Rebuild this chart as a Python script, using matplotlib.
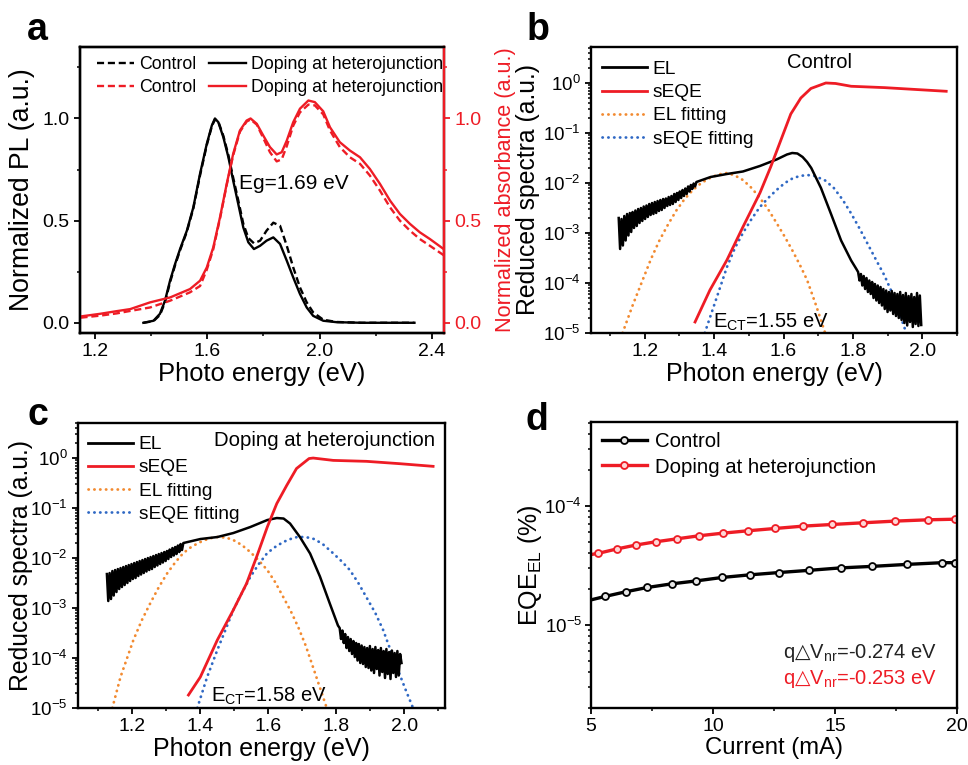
import numpy as np
import matplotlib
matplotlib.use('Agg')
import matplotlib.pyplot as plt
from matplotlib.ticker import MultipleLocator, LogLocator, NullFormatter
from matplotlib.lines import Line2D

plt.rcParams['font.family'] = ['Liberation Sans', 'DejaVu Sans']
plt.rcParams['mathtext.fontset'] = 'custom'
plt.rcParams['mathtext.rm'] = 'Liberation Sans'
plt.rcParams['mathtext.it'] = 'Liberation Sans:italic'
plt.rcParams['mathtext.bf'] = 'Liberation Sans:bold'
plt.rcParams['mathtext.sf'] = 'DejaVu Sans'
plt.rcParams['axes.linewidth'] = 1.7

RED = '#ee1c25'
ORANGE = '#f28a30'
BLUE = '#2f68c4'

# ---------------- Panel a data ----------------
pl_x = [1.372, 1.408, 1.431, 1.449, 1.467, 1.485, 1.503, 1.527, 1.55, 1.574, 1.598, 1.616,
        1.627, 1.639, 1.657, 1.675, 1.692, 1.71, 1.728, 1.746, 1.766, 1.788, 1.811, 1.835,
        1.859, 1.883, 1.906, 1.93, 1.954, 1.977, 2.013, 2.06, 2.15, 2.338]
pl_doping = [0.0, 0.01, 0.044, 0.108, 0.206, 0.288, 0.362, 0.451, 0.565, 0.73, 0.876, 0.966,
             1.0, 0.982, 0.908, 0.81, 0.696, 0.582, 0.467, 0.394, 0.361, 0.377, 0.402, 0.418,
             0.386, 0.304, 0.222, 0.141, 0.075, 0.034, 0.01, 0.003, 0.0, 0.0]
pl_control = [0.0, 0.008, 0.038, 0.1, 0.198, 0.282, 0.356, 0.446, 0.56, 0.722, 0.87, 0.962,
              0.995, 0.985, 0.915, 0.82, 0.71, 0.6, 0.485, 0.415, 0.389, 0.402, 0.451, 0.49,
              0.475, 0.377, 0.271, 0.173, 0.1, 0.051, 0.015, 0.004, 0.0, 0.0]

abs_x = [1.148, 1.218, 1.277, 1.325, 1.396, 1.467, 1.538, 1.574, 1.598, 1.621, 1.645, 1.669,
         1.692, 1.716, 1.74, 1.754, 1.776, 1.799, 1.823, 1.847, 1.865, 1.883, 1.906, 1.93,
         1.96, 1.983, 2.013, 2.037, 2.072, 2.108, 2.144, 2.179, 2.215, 2.251, 2.286, 2.322,
         2.357, 2.393, 2.443]
abs_doping = [0.031, 0.044, 0.057, 0.067, 0.1, 0.124, 0.165, 0.206, 0.271, 0.369, 0.516, 0.68,
              0.827, 0.941, 0.99, 1.0, 0.974, 0.917, 0.86, 0.824, 0.835, 0.892, 0.982, 1.048,
              1.088, 1.08, 1.035, 0.957, 0.884, 0.843, 0.81, 0.753, 0.68, 0.598, 0.533, 0.484,
              0.443, 0.41, 0.36]
abs_control = [0.025, 0.035, 0.046, 0.058, 0.075, 0.108, 0.149, 0.18, 0.26, 0.36, 0.51, 0.675,
               0.82, 0.935, 0.985, 0.995, 0.97, 0.905, 0.835, 0.79, 0.80, 0.865, 0.965, 1.03,
               1.068, 1.064, 1.02, 0.941, 0.86, 0.81, 0.778, 0.721, 0.647, 0.565, 0.5, 0.451,
               0.41, 0.377, 0.33]

# ---------------- Panel b data (log10 values) ----------------
b_el_left_log = [-2.70, -3.32, -2.72, -3.25, -2.66, -3.15, -2.62, -3.05, -2.60, -2.98, -2.58,
                 -2.90, -2.55, -2.86, -2.52, -2.80, -2.50, -2.76, -2.47, -2.72, -2.45, -2.68,
                 -2.42, -2.64, -2.40, -2.62, -2.38, -2.60, -2.36, -2.56, -2.34, -2.54, -2.32,
                 -2.50, -2.31, -2.46, -2.28, -2.44, -2.26, -2.42, -2.22, -2.38, -2.20, -2.34,
                 -2.17, -2.30, -2.14, -2.26, -2.11, -2.22, -2.07, -2.17, -2.04, -2.12, -2.01,
                 -2.07, -1.98]
b_el_mid_x = [1.39, 1.437, 1.483, 1.532, 1.58, 1.61, 1.625, 1.64, 1.655, 1.668, 1.68, 1.708,
              1.737, 1.766, 1.795, 1.81]
b_el_mid_log = [-1.88, -1.82, -1.77, -1.66, -1.53, -1.43, -1.40, -1.41, -1.48, -1.58, -1.70,
                -2.10, -2.62, -3.15, -3.55, -3.72]
b_el_right_log = [-3.78, -3.95, -3.82, -4.05, -3.86, -4.12, -3.90, -4.18, -3.95, -4.22, -3.98,
                  -4.30, -4.02, -4.35, -4.05, -4.40, -4.08, -4.45, -4.12, -4.52, -4.15, -4.58,
                  -4.18, -4.55, -4.16, -4.62, -4.20, -4.66, -4.22, -4.70, -4.18, -4.74, -4.24,
                  -4.80, -4.20, -4.85, -4.26, -4.78, -4.22, -4.88, -4.28, -4.82, -4.20, -4.86,
                  -4.25, -4.84]
b_seqe_x = [1.345, 1.388, 1.437, 1.483, 1.532, 1.563, 1.592, 1.621, 1.65, 1.679, 1.722, 1.75,
            1.795, 1.891, 1.988, 2.069]
b_seqe_log = [-4.78, -4.14, -3.54, -2.88, -2.20, -1.68, -1.15, -0.62, -0.30, -0.11, 0.0, -0.01,
              -0.066, -0.093, -0.133, -0.166]
b_elfit_x = [1.136, 1.165, 1.194, 1.218, 1.243, 1.268, 1.292, 1.315, 1.339, 1.363, 1.388, 1.412,
             1.437, 1.46, 1.483, 1.508, 1.532, 1.556, 1.58, 1.604, 1.628, 1.648, 1.668, 1.694,
             1.72]
b_elfit_log = [-5.0, -4.45, -3.94, -3.52, -3.14, -2.82, -2.54, -2.32, -2.14, -2.0, -1.90, -1.83,
               -1.80, -1.85, -1.94, -2.10, -2.30, -2.53, -2.80, -3.08, -3.38, -3.65, -3.94,
               -4.45, -5.0]
b_eqefit_x = [1.373, 1.408, 1.437, 1.46, 1.483, 1.508, 1.532, 1.556, 1.58, 1.604, 1.628, 1.648,
              1.668, 1.69, 1.72, 1.745, 1.77, 1.795, 1.82, 1.845, 1.87, 1.891, 1.91, 1.93, 1.954]
b_eqefit_log = [-5.0, -4.28, -3.68, -3.30, -3.0, -2.72, -2.48, -2.30, -2.14, -2.00, -1.90, -1.86,
                -1.84, -1.86, -1.95, -2.10, -2.33, -2.61, -2.92, -3.25, -3.58, -3.85, -4.15,
                -4.52, -5.0]

# ---------------- Panel c data (log10 values) ----------------
c_el_left_log = [-2.32, -2.86, -2.30, -2.82, -2.26, -2.75, -2.24, -2.68, -2.22, -2.62, -2.20,
                 -2.58, -2.18, -2.54, -2.16, -2.50, -2.14, -2.46, -2.12, -2.42, -2.10, -2.40,
                 -2.08, -2.36, -2.06, -2.33, -2.04, -2.30, -2.02, -2.27, -2.00, -2.24, -1.98,
                 -2.22, -1.96, -2.18, -1.94, -2.15, -1.92, -2.12, -1.90, -2.09, -1.88, -2.06,
                 -1.86, -2.02, -1.83, -1.98, -1.80, -1.95, -1.78, -1.92, -1.75, -1.88, -1.72,
                 -1.84, -1.70]
c_el_mid_x = [1.40, 1.45, 1.497, 1.547, 1.597, 1.625, 1.645, 1.664, 1.693, 1.723, 1.752, 1.781,
              1.805]
c_el_mid_log = [-1.62, -1.58, -1.50, -1.38, -1.24, -1.20, -1.21, -1.31, -1.58, -1.91, -2.37,
                -2.91, -3.35]
c_el_right_log = [-3.40, -3.62, -3.45, -3.70, -3.52, -3.80, -3.58, -3.86, -3.62, -3.92, -3.66,
                  -3.98, -3.70, -4.05, -3.72, -4.10, -3.75, -4.12, -3.78, -4.18, -3.80, -4.20,
                  -3.76, -4.25, -3.82, -4.30, -3.78, -4.22, -3.84, -4.35, -3.80, -4.28, -3.86,
                  -4.40, -3.82, -4.32, -3.88, -4.42, -3.85, -4.30, -3.90, -4.38, -3.86, -4.35,
                  -3.92, -4.10]
c_seqe_x = [1.365, 1.40, 1.45, 1.497, 1.536, 1.566, 1.597, 1.625, 1.654, 1.683, 1.72, 1.732,
            1.791, 1.889, 1.987, 2.085]
c_seqe_log = [-4.74, -4.38, -3.64, -3.04, -2.51, -1.97, -1.38, -0.91, -0.55, -0.21, -0.01, 0.0,
              -0.047, -0.066, -0.113, -0.166]
c_elfit_x = [1.141, 1.165, 1.203, 1.228, 1.253, 1.278, 1.303, 1.327, 1.35, 1.375, 1.40, 1.425,
             1.45, 1.475, 1.497, 1.522, 1.547, 1.572, 1.597, 1.62, 1.644, 1.666, 1.688, 1.71,
             1.735, 1.772]
c_elfit_log = [-5.0, -4.38, -3.64, -3.24, -2.90, -2.58, -2.30, -2.08, -1.90, -1.77, -1.68, -1.61,
               -1.58, -1.59, -1.64, -1.74, -1.88, -2.05, -2.24, -2.48, -2.78, -3.06, -3.38,
               -3.75, -4.25, -5.0]
c_eqefit_x = [1.391, 1.42, 1.45, 1.475, 1.497, 1.522, 1.547, 1.572, 1.597, 1.62, 1.644, 1.665,
              1.685, 1.71, 1.735, 1.76, 1.79, 1.815, 1.84, 1.865, 1.89, 1.915, 1.938, 1.96,
              1.985, 2.005, 2.026]
c_eqefit_log = [-5.0, -4.38, -3.84, -3.42, -3.04, -2.70, -2.38, -2.12, -1.90, -1.78, -1.68,
                -1.62, -1.58, -1.58, -1.62, -1.72, -1.90, -2.06, -2.24, -2.50, -2.80, -3.10,
                -3.44, -3.85, -4.30, -4.65, -5.0]

# ---------------- Panel d data ----------------
d_ctrl_x = [5.0, 5.57, 6.45, 7.31, 8.31, 9.32, 10.37, 11.5, 12.69, 13.93, 15.23, 16.53, 17.94,
            19.39, 19.92]
d_ctrl_y = [1.62e-5, 1.73e-5, 1.90e-5, 2.06e-5, 2.21e-5, 2.34e-5, 2.50e-5, 2.63e-5, 2.75e-5,
            2.87e-5, 3.01e-5, 3.10e-5, 3.22e-5, 3.33e-5, 3.33e-5]
d_dop_x = [5.0, 5.30, 6.05, 6.83, 7.65, 8.51, 9.44, 10.41, 11.45, 12.55, 13.70, 14.89, 16.15,
           17.46, 18.81, 19.92]
d_dop_y = [3.9e-5, 3.99e-5, 4.34e-5, 4.68e-5, 4.99e-5, 5.28e-5, 5.61e-5, 5.90e-5, 6.18e-5,
           6.46e-5, 6.76e-5, 6.98e-5, 7.21e-5, 7.45e-5, 7.64e-5, 7.73e-5]

TICK_FS = 14
LOG_TICK_FS = 13.5
LABEL_FS = 18

fig = plt.figure(figsize=(9.68, 7.65), dpi=100)
ax_a = fig.add_axes([0.0826, 0.5647, 0.3760, 0.3739])
ax_b = fig.add_axes([0.6105, 0.5647, 0.3781, 0.3739])
ax_c = fig.add_axes([0.0806, 0.0745, 0.3791, 0.3725])
ax_d = fig.add_axes([0.6105, 0.0745, 0.3781, 0.3739])


def style(ax):
    ax.tick_params(which='major', direction='out', length=4.5, width=1.3, labelsize=TICK_FS,
                   top=False, right=False, pad=3)
    ax.tick_params(which='minor', direction='out', length=2.5, width=1.1, top=False, right=False)


# ---------- a ----------
ax_a.plot(pl_x, pl_control, color='black', lw=1.7, ls=(0, (3, 1.6)))
ax_a.plot(pl_x, pl_doping, color='black', lw=1.7)
ax_a.set_xlim(1.146, 2.443)
ax_a.set_ylim(-0.05, 1.35)
ax_a.xaxis.set_major_locator(MultipleLocator(0.4))
ax_a.xaxis.set_minor_locator(MultipleLocator(0.2))
ax_a.yaxis.set_major_locator(MultipleLocator(0.5))
ax_a.yaxis.set_minor_locator(MultipleLocator(0.25))
ax_a.xaxis.set_major_formatter(plt.FuncFormatter(lambda v, p: f'{v:.1f}'))
ax_a.yaxis.set_major_formatter(plt.FuncFormatter(lambda v, p: f'{v:.1f}'))
style(ax_a)
ax_a.set_xlabel('Photo energy (eV)', fontsize=18.4, labelpad=1)
ax_a.set_ylabel('Normalized PL (a.u.)', fontsize=19.2)
ax_a.yaxis.set_label_coords(-0.124, 0.5)
ax_a2 = ax_a.twinx()
ax_a2.plot(abs_x, abs_control, color=RED, lw=1.7, ls=(0, (3, 1.6)))
ax_a2.plot(abs_x, abs_doping, color=RED, lw=1.7)
ax_a2.set_ylim(-0.05, 1.35)
ax_a2.yaxis.set_major_locator(MultipleLocator(0.5))
ax_a2.yaxis.set_minor_locator(MultipleLocator(0.25))
ax_a2.yaxis.set_major_formatter(plt.FuncFormatter(lambda v, p: f'{v:.1f}'))
ax_a2.tick_params(which='major', direction='out', length=4.5, width=1.3, labelsize=TICK_FS,
                  colors=RED, pad=3)
ax_a2.tick_params(which='minor', direction='out', length=2.5, width=1.1, colors=RED)
ax_a2.spines['right'].set_color(RED)
ax_a2.set_ylabel('Normalized absorbance (a.u.)', fontsize=15.6, color=RED)
ax_a2.yaxis.set_label_coords(1.14, 0.5)
ax_a.text(1.713, 0.681, 'Eg=1.69 eV', fontsize=15, ha='left', va='center')
handles_a = [Line2D([], [], color='black', lw=1.7, ls=(0, (3, 1.6))),
             Line2D([], [], color=RED, lw=1.7, ls=(0, (3, 1.6))),
             Line2D([], [], color='black', lw=1.7),
             Line2D([], [], color=RED, lw=1.7)]
ax_a.legend(handles_a, ['Control', 'Control', 'Doping at heterojunction', 'Doping at heterojunction'],
            ncol=2, loc='upper left', bbox_to_anchor=(0.047, 0.967), frameon=False, fontsize=12.8,
            borderpad=0, borderaxespad=0, handlelength=2.05, handletextpad=0.3,
            columnspacing=0.75, labelspacing=0.31)


def spectra_panel(ax, left_log, left_rng, mid_x, mid_log, right_log, right_rng,
                  seqe_x, seqe_log, elfit_x, elfit_log, eqefit_x, eqefit_log, xlim, ytop):
    lx = np.linspace(left_rng[0], left_rng[1], len(left_log))
    rx = np.linspace(right_rng[0], right_rng[1], len(right_log))
    el_x = np.concatenate([lx, mid_x, rx])
    el_y = 10.0 ** np.concatenate([left_log, mid_log, right_log])
    ax.plot(elfit_x, 10.0 ** np.array(elfit_log), color=ORANGE, lw=2.0, ls=(0, (0.1, 2.0)),
            dash_capstyle='round')
    ax.plot(eqefit_x, 10.0 ** np.array(eqefit_log), color=BLUE, lw=2.0, ls=(0, (0.1, 2.0)),
            dash_capstyle='round')
    ax.plot(el_x, el_y, color='black', lw=1.8)
    ax.plot(seqe_x, 10.0 ** np.array(seqe_log), color=RED, lw=2.0)
    ax.set_yscale('log')
    ax.set_xlim(*xlim)
    ax.set_ylim(1e-5, ytop)
    ax.xaxis.set_major_locator(MultipleLocator(0.2))
    ax.xaxis.set_minor_locator(MultipleLocator(0.1))
    ax.xaxis.set_major_formatter(plt.FuncFormatter(lambda v, p: f'{v:.1f}'))
    ax.yaxis.set_major_locator(LogLocator(base=10, numticks=10))
    ax.yaxis.set_minor_locator(LogLocator(base=10, subs=np.arange(2, 10), numticks=10))
    ax.yaxis.set_minor_formatter(NullFormatter())
    style(ax)
    ax.tick_params(axis='y', which='major', labelsize=LOG_TICK_FS)
    ax.set_xlabel('Photon energy (eV)', fontsize=LABEL_FS, labelpad=1)
    ax.set_ylabel('Reduced spectra (a.u.)', fontsize=17.8)
    handles = [Line2D([], [], color='black', lw=2.0),
               Line2D([], [], color=RED, lw=2.0),
               Line2D([], [], color=ORANGE, lw=2.0, ls=(0, (0.1, 2.0)), dash_capstyle='round'),
               Line2D([], [], color=BLUE, lw=2.0, ls=(0, (0.1, 2.0)), dash_capstyle='round')]
    return handles


hb = spectra_panel(ax_b, b_el_left_log, (1.125, 1.349), b_el_mid_x, b_el_mid_log,
                   b_el_right_log, (1.815, 1.997), b_seqe_x, b_seqe_log, b_elfit_x, b_elfit_log,
                   b_eqefit_x, b_eqefit_log, (1.045, 2.10), 10 ** 0.72)
ax_b.yaxis.set_label_coords(-0.139, 0.5)
ax_b.legend(hb, ['EL', 'sEQE', 'EL fitting', 'sEQE fitting'], loc='upper left',
            bbox_to_anchor=(0.03, 0.952), frameon=False, fontsize=13.8, borderpad=0,
            borderaxespad=0, handlelength=2.35, handletextpad=0.3, labelspacing=0.30)
ax_b.text(0.624, 0.944, 'Control', transform=ax_b.transAxes, fontsize=14.5, ha='center',
          va='center')
ax_b.text(0.333, 0.018, r'E$_{\mathrm{CT}}$=1.55 eV', transform=ax_b.transAxes, fontsize=14.5,
          ha='left', va='baseline')

hc = spectra_panel(ax_c, c_el_left_log, (1.125, 1.35), c_el_mid_x, c_el_mid_log,
                   c_el_right_log, (1.81, 1.992), c_seqe_x, c_seqe_log, c_elfit_x, c_elfit_log,
                   c_eqefit_x, c_eqefit_log, (1.04, 2.12), 10 ** 0.70)
ax_c.yaxis.set_label_coords(-0.123, 0.5)
ax_c.legend(hc, ['EL', 'sEQE', 'EL fitting', 'sEQE fitting'], loc='upper left',
            bbox_to_anchor=(0.027, 0.955), frameon=False, fontsize=13.8, borderpad=0,
            borderaxespad=0, handlelength=2.35, handletextpad=0.3, labelspacing=0.30)
ax_c.text(0.973, 0.94, 'Doping at heterojunction', transform=ax_c.transAxes, fontsize=14.7,
          ha='right', va='center')
ax_c.text(0.362, 0.021, r'E$_{\mathrm{CT}}$=1.58 eV', transform=ax_c.transAxes, fontsize=14.5,
          ha='left', va='baseline')

# ---------- d ----------
ax_d.plot(d_ctrl_x, d_ctrl_y, color='black', lw=2.4, marker='o', ms=5, mfc='#e6e6e6',
          mec='black', mew=1.3, markevery=slice(1, None))
ax_d.plot(d_dop_x, d_dop_y, color=RED, lw=2.4, marker='o', ms=5, mfc='#ffd6d6',
          mec=RED, mew=1.3, markevery=slice(1, None))
ax_d.set_yscale('log')
ax_d.set_xlim(5, 20)
ax_d.set_ylim(10 ** -5.70, 10 ** -3.294)
ax_d.xaxis.set_major_locator(MultipleLocator(5))
ax_d.xaxis.set_minor_locator(MultipleLocator(2.5))
ax_d.yaxis.set_major_locator(LogLocator(base=10, numticks=10))
ax_d.yaxis.set_minor_locator(LogLocator(base=10, subs=np.arange(2, 10), numticks=10))
ax_d.yaxis.set_minor_formatter(NullFormatter())
style(ax_d)
ax_d.tick_params(axis='y', which='major', labelsize=LOG_TICK_FS, pad=2)
ax_d.set_xlabel('Current (mA)', fontsize=17.2, labelpad=1)
ax_d.set_ylabel(r'EQE$_{\mathrm{EL}}$ (%)', fontsize=LABEL_FS)
ax_d.yaxis.set_label_coords(-0.128, 0.5)
hd = [Line2D([], [], color='black', lw=2.4, marker='o', ms=5, mfc='#e6e6e6', mec='black', mew=1.3),
      Line2D([], [], color=RED, lw=2.4, marker='o', ms=5, mfc='#ffd6d6', mec=RED, mew=1.3)]
ax_d.legend(hd, ['Control', 'Doping at heterojunction'], loc='upper left',
            bbox_to_anchor=(0.03, 0.965), frameon=False, fontsize=14.7, borderpad=0,
            borderaxespad=0, handlelength=2.2, handletextpad=0.4, labelspacing=0.32)
ax_d.text(0.945, 0.192, r'q$\mathsf{△}$V$_{\mathrm{nr}}$=-0.274 eV', transform=ax_d.transAxes,
          fontsize=14.5, ha='right', va='center', color='#222222')
ax_d.text(0.945, 0.101, r'q$\mathsf{△}$V$_{\mathrm{nr}}$=-0.253 eV', transform=ax_d.transAxes,
          fontsize=14.5, ha='right', va='center', color=RED)

# panel letters
for lbl, x, y in [('a', 0.028, 0.948), ('b', 0.544, 0.948), ('c', 0.028, 0.4444),
                  ('d', 0.543, 0.438)]:
    fig.text(x, y, lbl, fontsize=27, fontweight='bold', ha='left', va='baseline')

fig.savefig('out.png', dpi=100)
